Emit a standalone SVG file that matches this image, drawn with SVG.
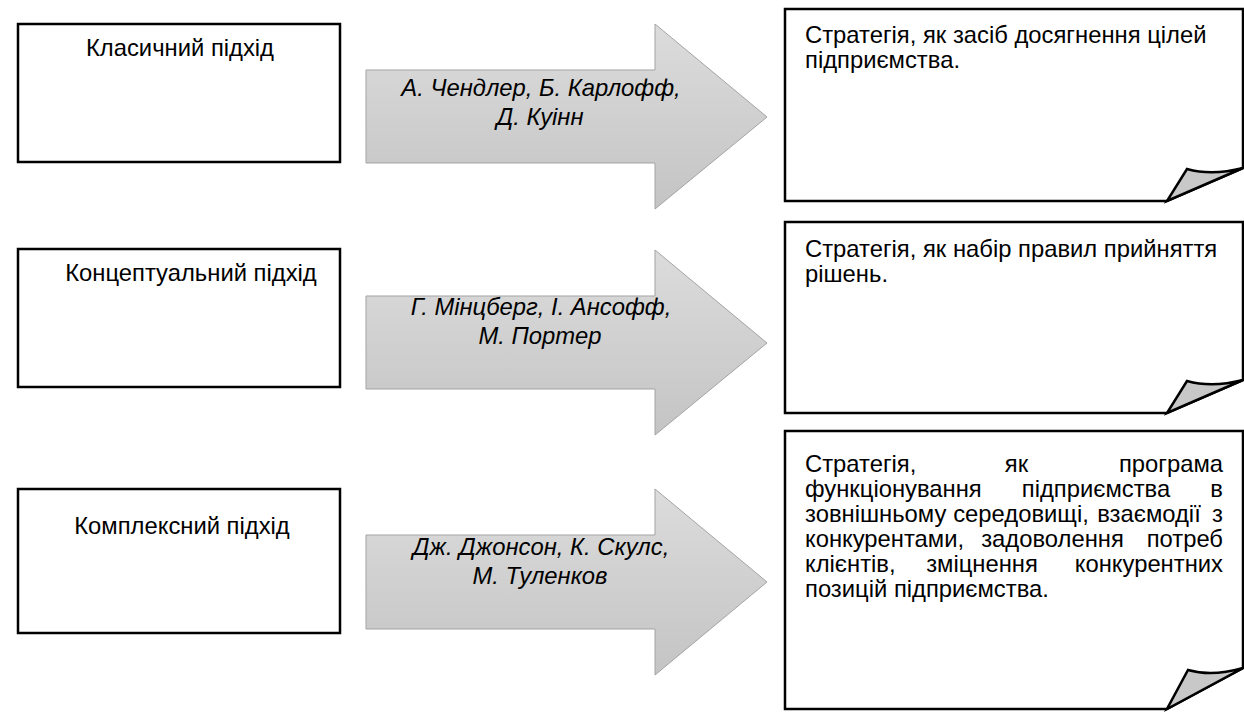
<svg xmlns="http://www.w3.org/2000/svg" width="1244" height="713" viewBox="0 0 1244 713">
<defs>
<linearGradient id="ag" x1="0" y1="0" x2="0" y2="1">
<stop offset="0" stop-color="#dcdcdc"/>
<stop offset="1" stop-color="#c4c4c4"/>
</linearGradient>
<style>
.box{fill:#fff;stroke:#000;stroke-width:2.5}
.page{fill:#fff;stroke:#000;stroke-width:2.5;stroke-linejoin:miter}
.curl{fill:#c8c8c8;stroke:#000;stroke-width:2.5;stroke-linejoin:miter}
.arrow{fill:url(#ag);stroke:#a3a3a3;stroke-width:1}
text{font-family:"Liberation Sans",Arial,sans-serif;font-size:23.8px;fill:#000}
.c{text-anchor:middle}
.e{text-anchor:end}
.i{font-style:italic;text-anchor:middle}
</style>
</defs>
<g id="connectors">
<g id="arrow1">
<path class="arrow" d="M366,70 H655 V24 L767,117 L655,209 V163 H366 Z"/>
<text class="i" x="541" y="96">А. Чендлер, Б. Карлофф,</text>
<text class="i" x="540" y="125">Д. Куінн</text>
</g>
<g id="arrow2">
<path class="arrow" d="M366,296 H655 V250 L767,343 L655,435 V389 H366 Z"/>
<text class="i" x="541" y="315">Г. Мінцберг, І. Ансофф,</text>
<text class="i" x="540" y="344">М. Портер</text>
</g>
<g id="arrow3">
<path class="arrow" d="M366,535 H655 V489 L767,582 L655,675 V629 H366 Z"/>
<text class="i" x="541" y="555">Дж. Джонсон, К. Скулс,</text>
<text class="i" x="540" y="584">М. Туленков</text>
</g>
</g>
<g id="node-classic">
<rect class="box" x="18" y="24" width="322" height="138"/>
<text class="c" x="180" y="56">Класичний підхід</text>
</g>
<g id="node-conceptual">
<rect class="box" x="18" y="249" width="322" height="138"/>
<text class="c" x="191" y="281">Концептуальний підхід</text>
</g>
<g id="node-complex">
<rect class="box" x="18" y="489" width="322" height="144"/>
<text class="c" x="182" y="534">Комплексний підхід</text>
</g>
<g id="node-result1">
<path class="page" d="M785,9 H1243 V168 L1167,201 H785 Z"/>
<path class="curl" d="M1243,168 Q1212,176 1187,169 L1167,201 Z"/>
<text x="805" y="43">Стратегія, як засіб досягнення цілей</text>
<text x="805" y="68">підприємства.</text>
</g>
<g id="node-result2">
<path class="page" d="M785,222 H1243 V380 L1167,413 H785 Z"/>
<path class="curl" d="M1243,380 Q1212,388 1187,381 L1167,413 Z"/>
<text x="805" y="257">Стратегія, як набір правил прийняття</text>
<text x="805" y="282">рішень.</text>
</g>
<g id="node-result3">
<path class="page" d="M785,431 H1243 V668 L1167,709 H785 Z"/>
<path class="curl" d="M1243,668 Q1212,677 1188,670 L1167,709 Z"/>
<text x="805" y="472">Стратегія,</text>
<text class="c" x="1016.5" y="472">як</text>
<text class="e" x="1223" y="472">програма</text>
<text x="805" y="497">функціонування</text>
<text class="c" x="1096" y="497">підприємства</text>
<text class="e" x="1223" y="497">в</text>
<text x="805" y="522">зовнішньому</text>
<text class="c" x="1021" y="522">середовищі,</text>
<text class="c" x="1149" y="522">взаємодії</text>
<text class="e" x="1223" y="522">з</text>
<text x="805" y="547">конкурентами,</text>
<text class="c" x="1052.5" y="547">задоволення</text>
<text class="e" x="1223" y="547">потреб</text>
<text x="805" y="572">клієнтів,</text>
<text class="c" x="982" y="572">зміцнення</text>
<text class="e" x="1223" y="572">конкурентних</text>
<text x="805" y="597">позицій підприємства.</text>
</g>
</svg>
